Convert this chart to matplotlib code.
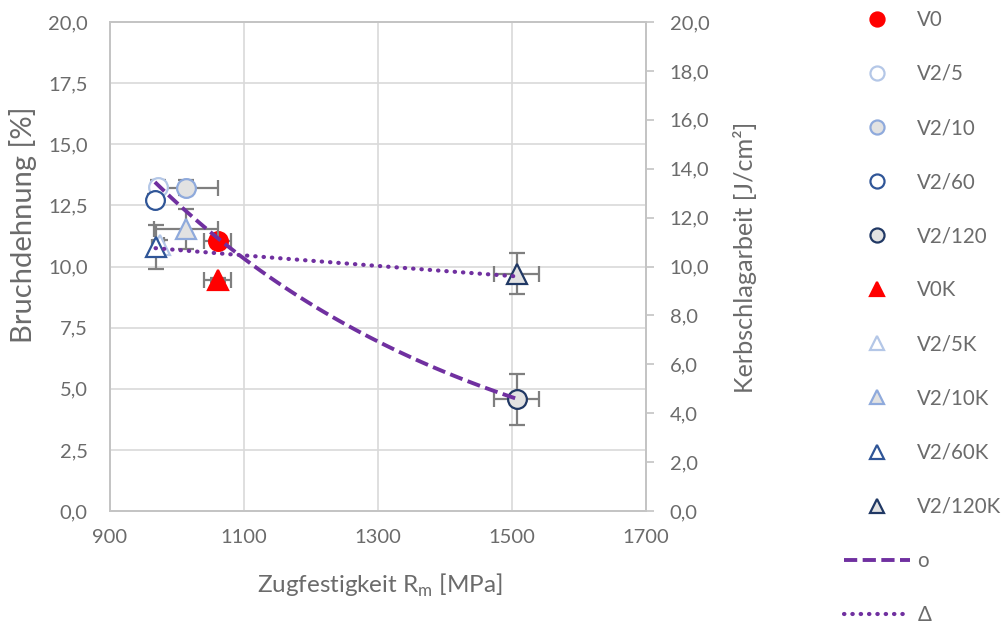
import numpy as np
import matplotlib
matplotlib.use("Agg")
import matplotlib.pyplot as plt
from matplotlib.ticker import FixedLocator, FuncFormatter

plt.rcParams['font.family'] = ['Lato', 'DejaVu Sans']

# Kreise: Bruchdehnung (linke Achse)
labels_kreis = ["V0", "V2/5", "V2/10", "V2/60", "V2/120"]
rm_kreis = [1061, 972, 1013, 967, 1507]
rm_err_kreis = [20, 6, 48, 5, 34]
bruch = [11.04, 13.27, 13.22, 12.73, 4.57]
bruch_err = [0.1, 0.25, 0.3, 0.25, 1.04]

# Dreiecke: Kerbschlagarbeit (rechte Achse)
labels_dreieck = ["V0K", "V2/5K", "V2/10K", "V2/60K", "V2/120K"]
rm_dreieck = [1061, 974, 1013, 968, 1507]
rm_err_dreieck = [20, 6, 48, 6, 34]
kerb = [9.45, 10.88, 11.55, 10.78, 9.71]
kerb_err = [0.1, 0.2, 0.82, 0.9, 0.84]

face = ["#ff0000", "white", "#e2e2e2", "white", "#e2e2e2"]
edge = ["#ff0000", "#b4c7e7", "#8faadc", "#2f5597", "#203864"]
purple = "#7030a0"
grau = "#7f7f7f"
textgrau = "#6b6b6b"
achse = "#c4c4c4"


def dez(v, pos):
    return f"{v:.1f}".replace(".", ",")


fig = plt.figure(figsize=(10.05, 6.24), dpi=100)
ax = fig.add_axes([110 / 1005, 1 - 511 / 624, 536 / 1005, 489 / 624])
ax2 = ax.twinx()

handles = []
for i in range(5):
    ax.errorbar(rm_kreis[i], bruch[i], xerr=rm_err_kreis[i], yerr=bruch_err[i],
                fmt="none", ecolor=grau, elinewidth=1.6, capsize=5.5, capthick=1.6, zorder=2)
    h, = ax.plot(rm_kreis[i], bruch[i], "o", ms=13.5, mfc=face[i], mec=edge[i],
                 mew=1.6, zorder=3, label=labels_kreis[i])
    handles.append(h)

for i in range(5):
    ax2.errorbar(rm_dreieck[i], kerb[i], xerr=rm_err_dreieck[i], yerr=kerb_err[i],
                 fmt="none", ecolor=grau, elinewidth=1.6, capsize=5.5, capthick=1.6, zorder=2)
    h, = ax2.plot(rm_dreieck[i], kerb[i], "^", ms=14, mfc=face[i], mec=edge[i],
                  mew=1.6, zorder=3, label=labels_dreieck[i])
    handles.append(h)

# exponentielle Trendlinien (beide Achsen haben dieselbe Skala 0..20)
xs = np.array(rm_kreis, float)
b, a = np.polyfit(xs, np.log(bruch), 1)
xx = np.linspace(xs.min(), xs.max(), 100)
h_o, = ax2.plot(xx, np.exp(a + b * xx), color=purple, lw=2.8, ls=(0, (3.4, 1.4)),
                zorder=4, label="o")

xs2 = np.array(rm_dreieck, float)
b2, a2 = np.polyfit(xs2, np.log(kerb), 1)
xx2 = np.linspace(xs2.min(), xs2.max(), 100)
h_d, = ax2.plot(xx2, np.exp(a2 + b2 * xx2), color=purple, lw=3.0, ls=(0, (0.1, 1.9)),
                dash_capstyle="round", zorder=4, label="Δ")
handles += [h_o, h_d]

ax.set_xlim(900, 1700)
ax.set_ylim(0, 20)
ax2.set_ylim(0, 20)
ax.set_xticks([900, 1100, 1300, 1500, 1700])
ax.yaxis.set_major_locator(FixedLocator(np.arange(0, 20.01, 2.5)))
ax2.yaxis.set_major_locator(FixedLocator(np.arange(0, 20.01, 2.0)))
ax.yaxis.set_major_formatter(FuncFormatter(dez))
ax2.yaxis.set_major_formatter(FuncFormatter(dez))

ax.grid(True, color="#d9d9d9", lw=1.2)
ax.set_axisbelow(True)
ax.tick_params(axis="both", length=0, labelsize=14.5, labelcolor=textgrau)
ax.tick_params(axis="y", pad=16)
ax.tick_params(axis="x", pad=13)
ax2.tick_params(axis="y", length=6, width=1.2, color=achse, pad=11,
                labelsize=14.5, labelcolor=textgrau)

for a_ in (ax, ax2):
    for s in a_.spines.values():
        s.set_color(achse)
        s.set_linewidth(1.4)

fig.text(380 / 1005, 1 - 585 / 624, "Zugfestigkeit R$_\\mathregular{m}$ [MPa]",
         ha="center", va="center", fontsize=17.5, color=textgrau)
fig.text(23 / 1005, 1 - 225 / 624, "Bruchdehnung [%]", rotation=90,
         ha="center", va="center", fontsize=21, color=textgrau)
fig.text(745 / 1005, 1 - 257 / 624, "Kerbschlagarbeit [J/cm²]", rotation=90,
         ha="center", va="center", fontsize=18.2, color=textgrau)

leg = fig.legend(handles=handles, loc="upper left", bbox_to_anchor=(825 / 1005, 1.014),
                 frameon=False, numpoints=1, markerscale=0.75, handlelength=3.25,
                 handletextpad=0.34, labelspacing=1.66, fontsize=14.8)
for t in leg.get_texts():
    t.set_color(textgrau)

fig.savefig("out.png", dpi=100)
